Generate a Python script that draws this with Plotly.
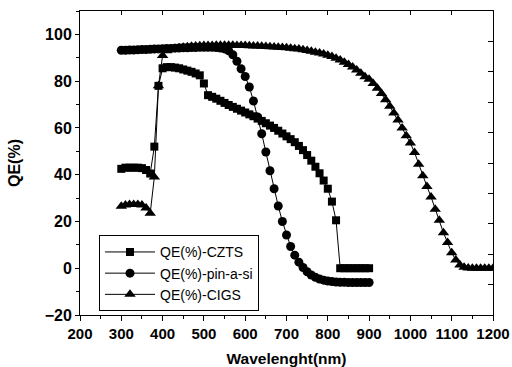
import plotly.graph_objects as go

wl_short = [300, 310, 320, 330, 340, 350, 360, 370, 380, 390,
            400, 410, 420, 430, 440, 450, 460, 470, 480, 490,
            500, 510, 520, 530, 540, 550, 560, 570, 580, 590,
            600, 610, 620, 630, 640, 650, 660, 670, 680, 690,
            700, 710, 720, 730, 740, 750, 760, 770, 780, 790,
            800, 810, 820, 830, 840, 850, 860, 870, 880, 890, 900]

qe_czts = [42.5, 43, 43, 43, 43, 42.8, 42, 40.5, 52, 78,
           85.5, 86, 86, 85.8, 85.5, 85, 84.5, 84, 83.3, 82.5,
           79, 74, 73.3, 72.5, 71.6, 70.7, 69.8, 69, 68.2, 67.4,
           66.6, 65.8, 65, 64, 63, 62, 61, 60, 58.8, 57.6,
           56.4, 55.2, 53.9, 52.3, 50.5, 48.4, 46, 43.4, 40.6, 37.5,
           34, 28.5, 20.5, 0, 0, 0, 0, 0, 0, 0, 0]

qe_asi = [93.2, 93.2, 93.3, 93.3, 93.4, 93.5, 93.5, 93.6, 93.7, 93.8,
          93.9, 94, 94, 94.1, 94.2, 94.3, 94.3, 94.4, 94.4, 94.5,
          94.5, 94.5, 94.5, 94.4, 94.2, 93.8, 93, 91.3, 88.5, 85.3,
          82, 77.5, 71.5, 64.7, 57.5, 49.7, 41.7, 34, 26.6, 20,
          14.2, 9.3, 5.6, 2.6, 0.3, -1.5, -2.9, -3.9, -4.6, -5.1,
          -5.5, -5.7, -5.9, -6, -6, -6.1, -6.1, -6.1, -6.1, -6.1, -6.1]

wl_long = [300, 310, 320, 330, 340, 350, 360, 370, 380, 390,
           400, 410, 420, 430, 440, 450, 460, 470, 480, 490,
           500, 510, 520, 530, 540, 550, 560, 570, 580, 590,
           600, 610, 620, 630, 640, 650, 660, 670, 680, 690,
           700, 710, 720, 730, 740, 750, 760, 770, 780, 790,
           800, 810, 820, 830, 840, 850, 860, 870, 880, 890,
           900, 910, 920, 930, 940, 950, 960, 970, 980, 990,
           1000, 1010, 1020, 1030, 1040, 1050, 1060, 1070, 1080, 1090,
           1100, 1110, 1120, 1130, 1140, 1150, 1160, 1170, 1180, 1190, 1200]

qe_cigs = [26.5, 27, 27.2, 27.2, 27.2, 27, 25.8, 23.5, 39, 78,
           91, 93, 93.6, 94, 94.3, 94.5, 94.7, 94.9, 95, 95.1,
           95.2, 95.3, 95.3, 95.4, 95.4, 95.4, 95.4, 95.4, 95.3, 95.3,
           95.2, 95.1, 95, 95, 94.9, 94.8, 94.7, 94.6, 94.5, 94.4,
           94.3, 94.1, 93.9, 93.7, 93.4, 93.1, 92.8, 92.4, 92, 91.6,
           91.1, 90.5, 89.8, 89, 88.1, 87.1, 86, 84.8, 83.4, 81.9,
           80.8, 79, 77, 74.7, 72, 69.3, 66.4, 63.4, 60, 56.6,
           53.5, 49.5, 44.5, 39.5, 35, 30.5, 25.2, 20.5, 15.2, 11,
           6.6, 3.5, 1.4, 0.4, 0.1, 0, 0, 0, 0, 0, 0]

series_names = ["QE(%)-CZTS", "QE(%)-pin-a-si", "QE(%)-CIGS"]

FONT = "Arial, 'Liberation Sans', sans-serif"

fig = go.Figure()
fig.add_trace(go.Scatter(x=wl_short, y=qe_czts, name=series_names[0], mode="lines+markers",
                         line=dict(color="black", width=1),
                         marker=dict(symbol="square", size=8, color="black")))
fig.add_trace(go.Scatter(x=wl_short, y=qe_asi, name=series_names[1], mode="lines+markers",
                         line=dict(color="black", width=1),
                         marker=dict(symbol="circle", size=9, color="black")))
fig.add_trace(go.Scatter(x=wl_long, y=qe_cigs, name=series_names[2], mode="lines+markers",
                         line=dict(color="black", width=1),
                         marker=dict(symbol="triangle-up", size=10, color="black")))
# helper trace to activate the mirrored top/right tick axes
fig.add_trace(go.Scatter(x=[200], y=[0], xaxis="x2", yaxis="y2", mode="markers",
                         marker=dict(opacity=0), showlegend=False, hoverinfo="skip"))

fig.update_layout(
    width=512, height=367,
    margin=dict(l=80, r=19, t=11, b=52, autoexpand=False),
    paper_bgcolor="white", plot_bgcolor="white",
    font=dict(family=FONT, color="black"),
    showlegend=True,
    legend=dict(x=0.046, y=0.262, xanchor="left", yanchor="top",
                bordercolor="black", borderwidth=1, bgcolor="white",
                font=dict(size=14, family=FONT), itemwidth=50,
                tracegroupgap=0, itemsizing="trace"),
    xaxis=dict(range=[200, 1200], dtick=100, tick0=200, showgrid=False, zeroline=False,
               showline=True, linecolor="black", linewidth=1, mirror=True, automargin=False,
               ticks="outside", ticklen=5, tickcolor="black",
               minor=dict(dtick=50, ticks="outside", ticklen=3, tickcolor="black"),
               tickfont=dict(size=15, family=FONT, weight="bold"),
               title=dict(text="<b>Wavelenght(nm)</b>", font=dict(size=15.5, family=FONT), standoff=13)),
    yaxis=dict(range=[-20, 110], dtick=20, tick0=0, showgrid=False, zeroline=False,
               showline=True, linecolor="black", linewidth=1, mirror=True, automargin=False,
               ticks="outside", ticklen=4, tickcolor="black",
               minor=dict(dtick=10, ticks="outside", ticklen=3, tickcolor="black"),
               tickfont=dict(size=16, family=FONT, weight="bold"),
               title=dict(text="<b>QE(%)</b>", font=dict(size=16, family=FONT), standoff=20)),
    xaxis2=dict(overlaying="x", side="top", anchor="y2", range=[200, 1200], dtick=100, tick0=200,
                showgrid=False, zeroline=False, showline=False, automargin=False,
                ticks="inside", ticklen=4, tickcolor="black", showticklabels=False),
    yaxis2=dict(overlaying="y", side="right", anchor="x2", range=[0, 10], dtick=1,
                showgrid=False, zeroline=False, showline=False, automargin=False,
                ticks="inside", ticklen=5, tickcolor="black", showticklabels=False),
)

fig.write_html("out.html", config={"displayModeBar": False, "staticPlot": True},
               post_script="document.body.style.margin='0';document.body.style.overflow='hidden';")
